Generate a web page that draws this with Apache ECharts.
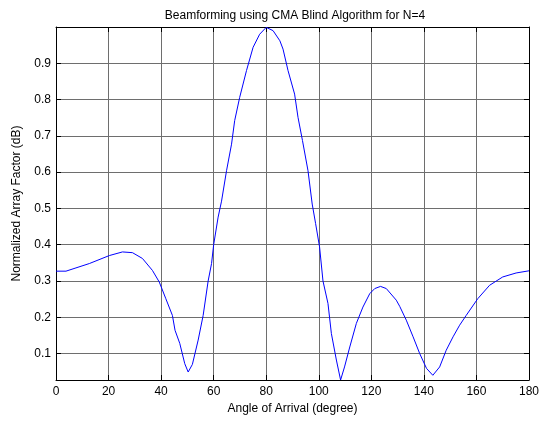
<!DOCTYPE html>
<html>
<head>
<meta charset="utf-8">
<script src="https://cdn.jsdelivr.net/npm/echarts@6/dist/echarts.min.js"></script>
<style>html,body{margin:0;padding:0;background:#fff}#c{width:542px;height:421px}</style>
</head>
<body>
<div id="c"></div>
<script>
const titleText = 'Beamforming using CMA Blind Algorithm for N=4';
const xName = 'Angle of Arrival (degree)';
const yName = 'Normalized Array Factor (dB)';
const xTicks = [0, 20, 40, 60, 80, 100, 120, 140, 160, 180];
const yTicks = [0.1, 0.2, 0.3, 0.4, 0.5, 0.6, 0.7, 0.8, 0.9];
const angles = [0, 3.8, 7.6, 12.7, 20.3, 25.3, 29.1, 32.9, 36.7, 39.3, 41.8, 44.3, 45.3, 47.1, 49, 50.3, 51.9, 54.1, 56, 57.9, 59.2, 60, 61.7, 63, 64.9, 66.8, 68, 69.9, 72.5, 75, 77.5, 80, 82.6, 85.2, 86.4, 88.3, 90.8, 92.1, 93.8, 95.9, 97.5, 98.8, 100.3, 101.6, 103.5, 104.8, 106.7, 108.3, 109.8, 111.8, 114.3, 116.8, 119.4, 121.3, 123.5, 125.7, 129.5, 130.8, 133.3, 135.9, 138.4, 141, 143.4, 146, 148.5, 151.1, 153.6, 156.1, 160.5, 165, 170, 175.1, 180];
const arrayFactor = [0.327, 0.327, 0.336, 0.348, 0.37, 0.380, 0.378, 0.362, 0.329, 0.297, 0.251, 0.205, 0.164, 0.128, 0.072, 0.049, 0.07, 0.137, 0.205, 0.30, 0.348, 0.40, 0.476, 0.52, 0.604, 0.677, 0.742, 0.806, 0.880, 0.944, 0.980, 0.999, 0.99, 0.962, 0.939, 0.88, 0.815, 0.751, 0.687, 0.604, 0.512, 0.458, 0.394, 0.30, 0.238, 0.155, 0.082, 0.027, 0.063, 0.118, 0.183, 0.228, 0.265, 0.279, 0.285, 0.279, 0.247, 0.230, 0.192, 0.146, 0.10, 0.059, 0.040, 0.063, 0.109, 0.146, 0.178, 0.205, 0.251, 0.288, 0.311, 0.322, 0.328];

const FONT = 'Liberation Sans, Arial, sans-serif';
const FS = 12;
const chart = echarts.init(document.getElementById('c'), null, {renderer: 'canvas'});
const yMin = 0.027, yMax = 1.0;
const baseAxisLine = {show: true, onZero: false, lineStyle: {color: '#000', width: 1}};
chart.setOption({
  animation: false,
  backgroundColor: '#fff',
  title: {
    text: titleText, left: 290, top: 5, textAlign: 'center',
    textStyle: {fontFamily: FONT, fontSize: FS, fontWeight: 'normal', color: '#000'}
  },
  grid: {left: 56, right: 10, top: 27, bottom: 41, containLabel: false},
  xAxis: [{
    type: 'value', min: 0, max: 180, interval: 20, position: 'bottom',
    name: xName, nameLocation: 'middle', nameGap: 23,
    nameTextStyle: {fontFamily: FONT, fontSize: FS, color: '#000'},
    axisLine: baseAxisLine,
    axisTick: {show: true, inside: true, length: 5, lineStyle: {color: '#000'}},
    axisLabel: {fontFamily: FONT, fontSize: FS, color: '#000', margin: 6},
    splitLine: {show: true, lineStyle: {color: '#6e6e6e', width: 1}}
  }, {
    type: 'value', min: 0, max: 180, interval: 20, position: 'top',
    axisLine: baseAxisLine,
    axisTick: {show: true, inside: true, length: 5, lineStyle: {color: '#000'}},
    axisLabel: {show: false}, splitLine: {show: false}
  }],
  yAxis: [{
    type: 'value', min: yMin, max: yMax, position: 'left',
    name: yName, nameLocation: 'middle', nameGap: 33, nameRotate: 90,
    nameTextStyle: {fontFamily: FONT, fontSize: FS, color: '#000'},
    axisLine: baseAxisLine,
    axisTick: {show: true, inside: true, length: 5, lineStyle: {color: '#000'}, customValues: yTicks},
    axisLabel: {fontFamily: FONT, fontSize: FS, color: '#000', margin: 5, customValues: yTicks,
      formatter: v => v.toFixed(1)},
    splitLine: {show: true, lineStyle: {color: '#6e6e6e', width: 1}}
  }, {
    type: 'value', min: yMin, max: yMax, position: 'right',
    axisLine: baseAxisLine,
    axisTick: {show: true, inside: true, length: 5, lineStyle: {color: '#000'}, customValues: yTicks},
    axisLabel: {show: false, customValues: yTicks}, splitLine: {show: false}
  }],
  series: [{
    type: 'line', xAxisIndex: 0, yAxisIndex: 0,
    data: angles.map((a, i) => [a, arrayFactor[i]]),
    showSymbol: false, symbol: 'none', smooth: false,
    lineStyle: {color: '#0000ff', width: 1},
    clip: true
  }]
});
</script>
</body>
</html>
